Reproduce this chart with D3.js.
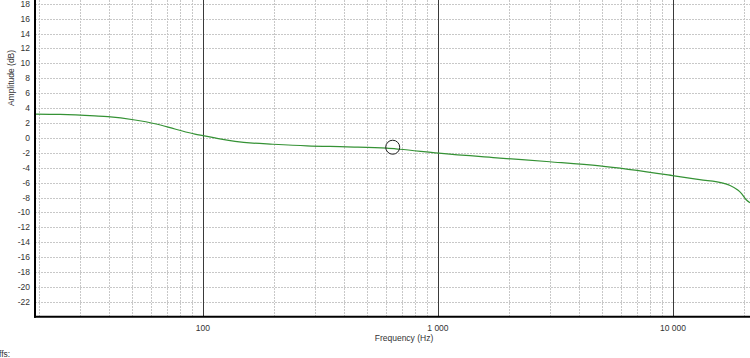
<!DOCTYPE html>
<html>
<head>
<meta charset="utf-8">
<script src="https://cdn.jsdelivr.net/npm/d3@7"></script>
<style>
  body { margin: 0; background: #fff; }
  text { font-family: "Liberation Sans", Arial, sans-serif; font-size: 8.5px; fill: #333; }
</style>
</head>
<body>
<div class="canvas"></div>
<script>
// frequency response
const freqs = [19.3, 24.7, 34.7, 39.4, 51.4, 62.5, 76, 92.5, 100, 112.5, 118, 163, 198, 277, 409, 606, 687, 1006, 1832, 2992, 4882, 9950, 13000, 16470, 17500, 18870, 19500, 20500, 21270];
const amps  = [3.2, 3.15, 2.95, 2.85, 2.4, 1.9, 1.2, 0.5, 0.3, 0.0, -0.13, -0.7, -0.85, -1.07, -1.2, -1.38, -1.52, -2.05, -2.7, -3.2, -3.76, -5.05, -5.6, -6.1, -6.38, -7.0, -7.4, -8.3, -8.7];

// cursor marker
const markerFreq = 642;
const markerAmp = -1.25;

// axis ticks
const yTicks = d3.range(-22, 19, 2);
const xMajor = [100, 1000, 10000];
const xMinor = [20, 30, 40, 50, 60, 70, 80, 90, 200, 300, 400, 500, 600, 700, 800, 900,
  2000, 3000, 4000, 5000, 6000, 7000, 8000, 9000, 20000];

// dimensions
const dims = { width: 750, height: 358 };
const plot = { left: 35, right: 750, top: 0, bottom: 316.8 };

const svg = d3.select(".canvas")
  .append("svg")
  .attr("width", dims.width)
  .attr("height", dims.height);

// scales
const x = d3.scaleLog().domain([19.3, 21270]).range([plot.left, plot.right]);
const y = d3.scaleLinear().domain([-24, 18.5]).range([plot.bottom, plot.top]);

// minor grid
const grid = svg.append("g");
grid.selectAll(".hgrid")
  .data(yTicks)
  .enter().append("line")
  .attr("x1", plot.left).attr("x2", plot.right)
  .attr("y1", d => Math.round(y(d)) + 0.5).attr("y2", d => Math.round(y(d)) + 0.5)
  .attr("stroke", "#c8c8c8")
  .attr("stroke-dasharray", "2,1");

grid.selectAll(".vgrid")
  .data(xMinor)
  .enter().append("line")
  .attr("x1", d => Math.round(x(d)) + 0.5).attr("x2", d => Math.round(x(d)) + 0.5)
  .attr("y1", plot.top).attr("y2", plot.bottom)
  .attr("stroke", "#c8c8c8")
  .attr("stroke-dasharray", "2,1");

// decade lines
grid.selectAll(".decade")
  .data(xMajor)
  .enter().append("line")
  .attr("x1", d => Math.round(x(d)) + 0.5).attr("x2", d => Math.round(x(d)) + 0.5)
  .attr("y1", plot.top).attr("y2", plot.bottom)
  .attr("stroke", "#3a3a3a")
  .attr("stroke-width", 1);

// curve
const line = d3.line()
  .x((d, i) => x(freqs[i]))
  .y(d => y(d))
  .curve(d3.curveMonotoneX);

svg.append("path")
  .attr("d", line(amps))
  .attr("fill", "none")
  .attr("stroke", "#359235")
  .attr("stroke-width", 1.2);

// cursor marker
svg.append("circle")
  .attr("cx", x(markerFreq))
  .attr("cy", y(markerAmp))
  .attr("r", 7)
  .attr("fill", "none")
  .attr("stroke", "#222")
  .attr("stroke-width", 1);

// axes lines
svg.append("line")
  .attr("x1", plot.left).attr("x2", plot.left)
  .attr("y1", 0).attr("y2", plot.bottom + 1)
  .attr("stroke", "#000").attr("stroke-width", 2);
svg.append("line")
  .attr("x1", plot.left - 1).attr("x2", plot.right)
  .attr("y1", plot.bottom).attr("y2", plot.bottom)
  .attr("stroke", "#000").attr("stroke-width", 2);

// y tick labels
svg.selectAll(".ylab")
  .data(yTicks)
  .enter().append("text")
  .attr("x", 30)
  .attr("y", d => y(d))
  .attr("dy", "0.35em")
  .attr("text-anchor", "end")
  .text(d => d);

// x tick labels
const fmt = d => d3.format(",")(d).replace(/,/g, " ");
svg.selectAll(".xlab")
  .data(xMajor)
  .enter().append("text")
  .attr("x", d => x(d))
  .attr("y", 331)
  .attr("text-anchor", "middle")
  .text(fmt);

// axis titles
svg.append("text")
  .attr("x", 404).attr("y", 340.5)
  .attr("text-anchor", "middle")
  .text("Frequency (Hz)");

svg.append("text")
  .attr("transform", "translate(14,78) rotate(-90)")
  .attr("text-anchor", "middle")
  .text("Amplitude (dB)");

// clipped label at the bottom edge
svg.append("text")
  .attr("x", -1).attr("y", 357)
  .attr("fill", "#777")
  .text("ffs:");
</script>
</body>
</html>
